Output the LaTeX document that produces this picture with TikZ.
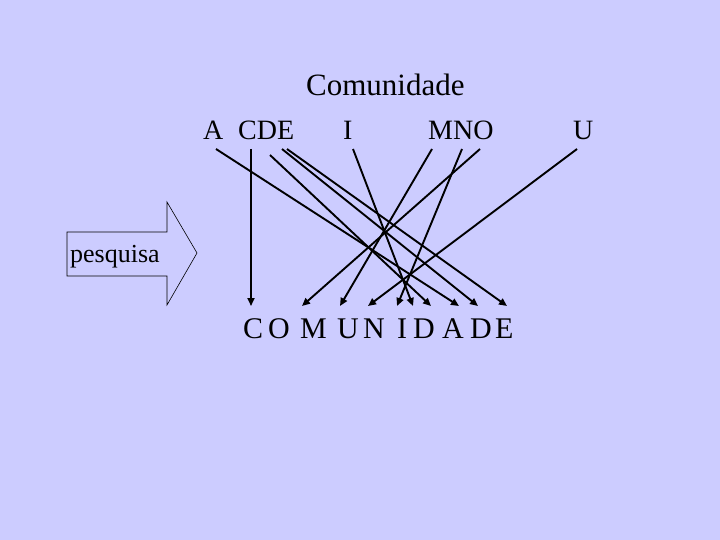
\documentclass[tikz,border=0pt]{standalone}
\usepackage{fontspec}
\setmainfont{Liberation Serif}
\usetikzlibrary{arrows.meta}
\definecolor{slidebg}{RGB}{204,204,255}

\begin{document}
\begin{tikzpicture}[x=1pt, y=-1pt,
    letter/.style={anchor=base west, inner sep=0pt, font=\fontsize{28}{30}\selectfont},
    link/.style={line width=1.9pt, -{Triangle[length=8pt, width=7pt]}}]
  \fill[slidebg] (0,0) rectangle (720,540);
  \useasboundingbox (0,0) rectangle (720,540);

  % title and source letters
  \node[letter, font=\fontsize{31}{33}\selectfont] (title) at (306,96) {Comunidade};
  \node[letter] (srcA) at (203,140) {A};
  \node[letter] (srcCDE) at (238,140) {CDE};
  \node[letter] (srcI) at (343,140) {I};
  \node[letter] (srcMNO) at (428,140) {MNO};
  \node[letter] (srcU) at (573,140) {U};

  % target word, one letter at a time
  \foreach \ch/\xx [count=\i] in {C/243, O/268, M/300, U/337, N/363, I/397, D/413, A/442, D/470, E/495}
    \node[letter, font=\fontsize{30}{32}\selectfont] (dst\i) at (\xx,338) {\ch};

  % pesquisa arrow
  \draw[line width=0.6pt, fill=slidebg] (67,232) -- (167,232) -- (167,202) -- (197,253)
    -- (167,305) -- (167,276) -- (67,276) -- cycle;
  \node[anchor=base west, inner sep=0pt, font=\fontsize{26}{28}\selectfont] (pesquisa) at (70,262) {pesquisa};

  % start and end points of the links
  \coordinate (sA) at (216,149);
  \coordinate (sC) at (251,149);
  \coordinate (sD1) at (270,155);
  \coordinate (sD2) at (282,149);
  \coordinate (sE) at (287,149);
  \coordinate (sI) at (353,149);
  \coordinate (sM) at (432,149);
  \coordinate (sN) at (462,149);
  \coordinate (sO) at (480,149);
  \coordinate (sU) at (577,149);
  \coordinate (tC) at (251,306);
  \coordinate (tO) at (302,306);
  \coordinate (tM) at (340,306);
  \coordinate (tU) at (368,306);
  \coordinate (tN) at (397,306);
  \coordinate (tI) at (413,306);
  \coordinate (tD1) at (431,306);
  \coordinate (tA) at (459,306);
  \coordinate (tD2) at (478,306);
  \coordinate (tE) at (507,306);

  \foreach \p in {A, C, D1, D2, E, I, M, N, O, U}
    \draw[link] (s\p) -- (t\p);
\end{tikzpicture}
\end{document}
